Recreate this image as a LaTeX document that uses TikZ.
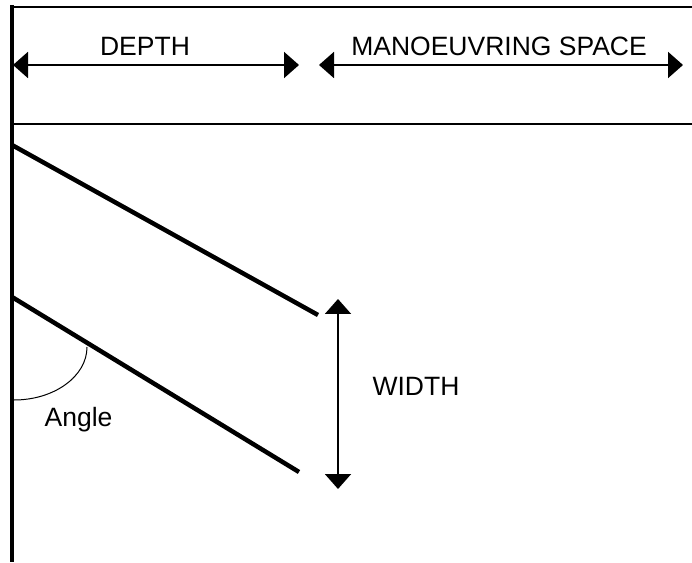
\documentclass[tikz,border=0pt]{standalone}
\usepackage{fontspec}
\setmainfont{Liberation Sans}
\usetikzlibrary{arrows.meta}
\begin{document}
\begin{tikzpicture}[x=1pt,y=1pt,
  thickline/.style={line width=4.5pt},
  frameline/.style={line width=2.2pt},
  dimarrow/.style={line width=2pt,{Triangle[length=15pt,width=26pt]}-{Triangle[length=15pt,width=26pt]}},
  lbl/.style={font=\fontsize{26.5}{30}\selectfont,anchor=base,inner sep=0pt}]
\useasboundingbox (0,0) rectangle (692,562);
% coordinates
\coordinate (topL) at (12,555);
\coordinate (topR) at (692,555);
\coordinate (midL) at (12,438);
\coordinate (midR) at (692,438);
\coordinate (wallT) at (12,556.5);
\coordinate (wallB) at (12,0);
\coordinate (u1) at (12,417);
\coordinate (u2) at (318,247);
\coordinate (l1) at (12,265);
\coordinate (l2) at (299,90);
\coordinate (d1) at (13,497);
\coordinate (d2) at (299,497);
\coordinate (m1) at (319,497);
\coordinate (m2) at (683,497);
\coordinate (w1) at (338,263);
\coordinate (w2) at (338,73);
\coordinate (arcS) at (14,162);
% frame
\draw[frameline] (topL) -- (topR);
\draw[line width=2pt] (midL) -- (midR);
\draw[thickline] (wallT) -- (wallB);
% angled lines
\draw[thickline] (u1) -- (u2);
\draw[thickline] (l1) -- (l2);
% dimension arrows
\draw[dimarrow] (d1) -- (d2);
\draw[dimarrow] (m1) -- (m2);
\draw[dimarrow] (w1) -- (w2);
% angle arc
\draw[line width=1pt] (arcS) arc[start angle=-90,end angle=0,x radius=73,y radius=53];
% labels
\node[lbl] (depth) at (145,506) {DEPTH};
\node[lbl] (manoeuvre) at (499,506) {MANOEUVRING SPACE};
\node[lbl] (width) at (416,167) {WIDTH};
\node[lbl] (angle) at (78.5,136) {Angle};
\end{tikzpicture}
\end{document}
